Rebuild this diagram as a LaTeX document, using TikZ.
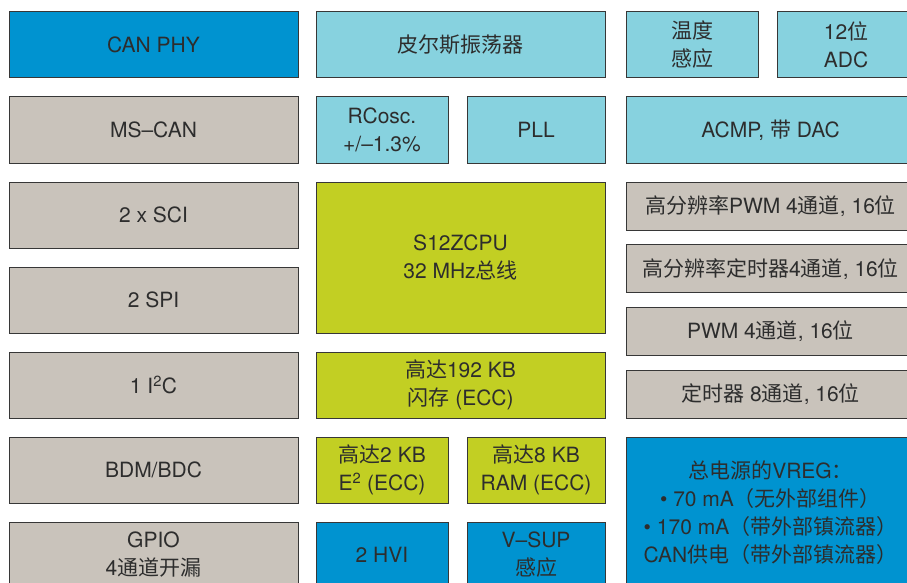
\documentclass[tikz,border=0pt]{standalone}
\usepackage{fontspec}
\setmainfont{TeX Gyre Heros}
\newfontfamily\cjk{Noto Sans CJK SC}
\newcommand{\zh}[1]{{\cjk #1}}
\usepackage{tikz}
\usetikzlibrary{positioning}

\definecolor{darkblue}{RGB}{0,147,208}
\definecolor{lightblue}{RGB}{135,210,223}
\definecolor{warmgray}{RGB}{201,195,187}
\definecolor{limegreen}{RGB}{194,207,35}
\definecolor{textgray}{RGB}{45,45,45}
\definecolor{edgegray}{RGB}{55,55,55}

\begin{document}
\begin{tikzpicture}[x=1pt,y=-1pt,
   blk/.style={draw=edgegray,line width=1pt,fill=#1,inner sep=0pt,align=center,
     text=textgray,font=\fontsize{21}{28}\selectfont},
   wide/.style={minimum width=289pt},
   small/.style={minimum width=132pt},
   smallb/.style={minimum width=138pt},
   row/.style={minimum height=66pt},
   thin/.style={minimum height=48pt},
   tall/.style={minimum height=151pt}
  ]
\useasboundingbox (0,0) rectangle (907,583);
\clip (0,0) rectangle (907,583);

% left column
 \node[blk=darkblue,wide,row] (canphy) at (153.5,45) {CAN PHY};
 \node[blk=warmgray,wide,row] (mscan) at (153.5,130) {MS--CAN};
 \node[blk=warmgray,wide,row] (sci) at (153.5,215) {2 x SCI};
 \node[blk=warmgray,wide,row] (spi) at (153.5,300) {2 SPI};
 \node[blk=warmgray,wide,row] (iic) at (153.5,385) {1 I\textsuperscript{2}C};
 \node[blk=warmgray,wide,row] (bdm) at (153.5,470) {BDM/BDC};
 \node[blk=warmgray,wide,row] (gpio) at (153.5,555) {GPIO\\4\zh{通道开漏}};

% middle column
 \node[blk=lightblue,wide,row] (pierce) at (460.5,45) {\zh{皮尔斯振荡器}};
 \node[blk=lightblue,small,row] (rcosc) at (382,130) {RCosc.\\+/--1.3\%};
 \node[blk=lightblue,smallb,row] (pll) at (536,130) {PLL};
 \node[blk=limegreen,wide,tall] (cpu) at (460.5,257.5) {S12ZCPU\\32 MHz\zh{总线}};
 \node[blk=limegreen,wide,row] (flash) at (460.5,385) {\zh{高达}192 KB\\\zh{闪存} (ECC)};
 \node[blk=limegreen,small,row] (eeprom) at (382,470) {\zh{高达}2 KB\\E\textsuperscript{2} (ECC)};
 \node[blk=limegreen,smallb,row] (ram) at (536,470) {\zh{高达}8 KB\\RAM (ECC)};
 \node[blk=darkblue,small,row] (hvi) at (382,555) {2 HVI};
 \node[blk=darkblue,smallb,row] (vsup) at (536,555) {V--SUP\\\zh{感应}};

% right column
 \node[blk=lightblue,small,row] (temp) at (692,45) {\zh{温度}\\\zh{感应}};
 \node[blk=lightblue,smallb,row] (adc) at (846,45) {12\zh{位}\\ADC};
 \node[blk=lightblue,wide,row] (acmp) at (770.5,130) {ACMP, \zh{带} DAC};
 \node[blk=warmgray,wide,thin] (hrpwm) at (770.5,206) {\zh{高分辨率}PWM 4\zh{通道}, 16\zh{位}};
 \node[blk=warmgray,wide,thin] (hrtim) at (770.5,268.7) {\zh{高分辨率定时器}4\zh{通道}, 16\zh{位}};
 \node[blk=warmgray,wide,thin] (pwm) at (770.5,331.3) {PWM 4\zh{通道}, 16\zh{位}};
 \node[blk=warmgray,wide,thin] (tim) at (770.5,394) {\zh{定时器} 8\zh{通道}, 16\zh{位}};
 \node[blk=darkblue,wide,tall] (vreg) at (770.5,512.5)
   {\zh{总电源的}VREG\zh{：}\\\textbullet{} 70 mA\zh{（无外部组件）}\\
    \textbullet{} 170 mA\zh{（带外部镇流器）}\\CAN\zh{供电（带外部镇流器）}};

\end{tikzpicture}
\end{document}
